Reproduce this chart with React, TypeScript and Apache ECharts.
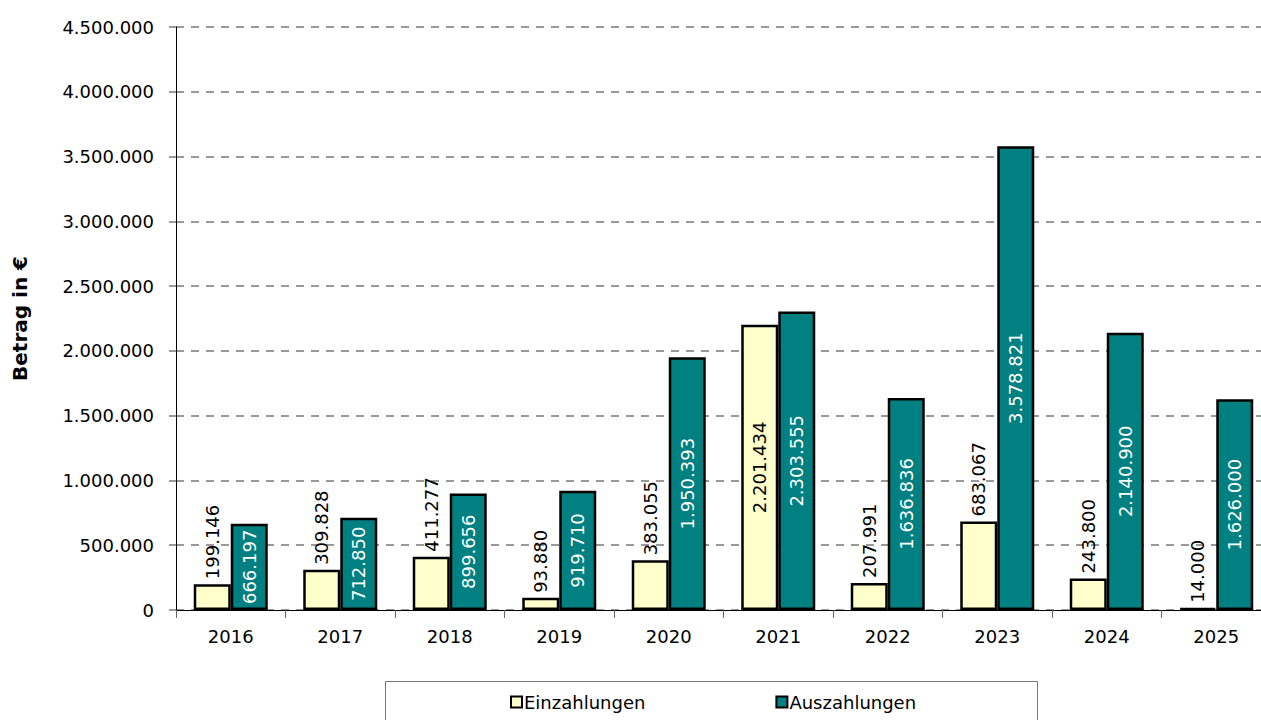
import React, { useEffect, useRef } from "react";
import * as echarts from "echarts";

const years = ["2016", "2017", "2018", "2019", "2020", "2021", "2022", "2023", "2024", "2025"];
const einzahlungen = [199146, 309828, 411277, 93880, 383055, 2201434, 207991, 683067, 243800, 14000];
const auszahlungen = [666197, 712850, 899656, 919710, 1950393, 2303555, 1636836, 3578821, 2140900, 1626000];
const insideEinzahlungen = ["2021"];

const FONT = "DejaVu Sans";
const fmt = (v: number) => String(Math.round(v)).replace(/\B(?=(\d{3})+(?!\d))/g, ".");

export default function App() {
  const ref = useRef<HTMLDivElement>(null);
  useEffect(() => {
    if (!ref.current) return;
    const chart = echarts.init(ref.current, undefined, { renderer: "svg" });
    const einData = einzahlungen.map((v, i) =>
      insideEinzahlungen.includes(years[i])
        ? { value: v, label: { position: "inside", align: "center", verticalAlign: "middle" } }
        : { value: v }
    );
    chart.setOption({
      animation: false,
      backgroundColor: "#fff",
      textStyle: { fontFamily: FONT },
      grid: { left: 176, top: 27, right: 4, bottom: 110, containLabel: false },
      graphic: [
        {
          type: "rect",
          shape: { x: 385.5, y: 681.5, width: 652, height: 60 },
          style: { fill: "#fff", stroke: "#777", lineWidth: 1 },
          z: -1,
        },
      ],
      legend: {
        left: 510,
        top: 693,
        itemGap: 130,
        itemWidth: 11,
        itemHeight: 11,
        padding: 0,
        icon: "rect",
        textStyle: { fontFamily: FONT, fontSize: 18, color: "#000", padding: [0, 0, 0, -3] },
        data: ["Einzahlungen", "Auszahlungen"],
      },
      xAxis: {
        type: "category",
        data: years,
        boundaryGap: true,
        axisLine: { lineStyle: { color: "#000", width: 1 } },
        axisTick: { show: true, alignWithLabel: false, length: 8, inside: false, lineStyle: { color: "#666" } },
        axisLabel: { fontFamily: FONT, fontSize: 18, color: "#000", margin: 17 },
      },
      yAxis: {
        type: "value",
        min: 0,
        max: 4500000,
        interval: 500000,
        name: "Betrag in €",
        nameLocation: "middle",
        nameRotate: 90,
        nameGap: 146,
        nameTextStyle: { fontFamily: FONT, fontSize: 20, fontWeight: "bold", color: "#000" },
        axisLine: { show: true, lineStyle: { color: "#000", width: 1 } },
        axisTick: { show: true, length: 7, lineStyle: { color: "#999", width: 2 } },
        axisLabel: { fontFamily: FONT, fontSize: 18, color: "#000", margin: 22, formatter: (v: number) => fmt(v) },
        splitLine: { show: true, lineStyle: { color: "#999", width: 2, type: [8, 7] } },
      },
      series: [
        {
          name: "Einzahlungen",
          type: "bar",
          data: einData,
          barWidth: 37,
          barGap: "0%",
          itemStyle: { color: "#FFFFCC", borderColor: "#000", borderWidth: 2.5 },
          label: {
            show: true,
            position: "top",
            rotate: 90,
            align: "left",
            verticalAlign: "middle",
            distance: 5,
            fontFamily: FONT,
            fontSize: 18,
            color: "#000",
            formatter: (p: any) => fmt(p.value),
          },
        },
        {
          name: "Auszahlungen",
          type: "bar",
          data: auszahlungen,
          barWidth: 37,
          barGap: "0%",
          itemStyle: { color: "#008080", borderColor: "#000", borderWidth: 2.5 },
          label: {
            show: true,
            position: "inside",
            rotate: 90,
            align: "center",
            verticalAlign: "middle",
            fontFamily: FONT,
            fontSize: 18,
            color: "#fff",
            formatter: (p: any) => fmt(p.value),
          },
        },
      ],
    });
    return () => chart.dispose();
  }, []);
  return (
    <div
      ref={ref}
      style={{ position: "fixed", left: 0, top: 0, width: 1275, height: 720, background: "#fff" }}
    />
  );
}
